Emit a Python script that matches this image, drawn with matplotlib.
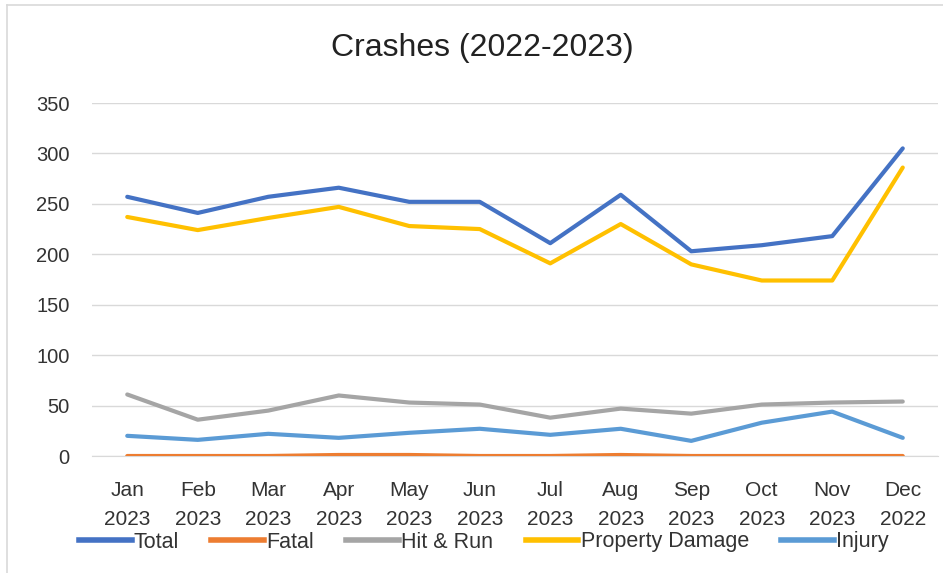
import matplotlib
matplotlib.use("Agg")
import matplotlib.pyplot as plt
from matplotlib.lines import Line2D

months = ["Jan\n2023", "Feb\n2023", "Mar\n2023", "Apr\n2023", "May\n2023", "Jun\n2023",
          "Jul\n2023", "Aug\n2023", "Sep\n2023", "Oct\n2023", "Nov\n2023", "Dec\n2022"]
total = [257, 241, 257, 266, 252, 252, 211, 259, 203, 209, 218, 305]
fatal = [0, 0, 0, 1, 1, 0, 0, 1, 0, 0, 0, 0]
hit_run = [61, 36, 45, 60, 53, 51, 38, 47, 42, 51, 53, 54]
property_damage = [237, 224, 236, 247, 228, 225, 191, 230, 190, 174, 174, 286]
injury = [20, 16, 22, 18, 23, 27, 21, 27, 15, 33, 44, 18]
yticks = [0, 50, 100, 150, 200, 250, 300, 350]

plt.rcParams['font.family'] = ['Liberation Sans', 'DejaVu Sans']

fig = plt.figure(figsize=(9.43, 5.73), dpi=100)
ax = fig.add_axes([92 / 943, 117 / 573, (938 - 92) / 943, (456 - 103) / 573])

series = [
    ("Total", total, "#4472C4"),
    ("Fatal", fatal, "#ED7D31"),
    ("Hit & Run", hit_run, "#A5A5A5"),
    ("Property Damage", property_damage, "#FFC000"),
    ("Injury", injury, "#5B9BD5"),
]
x = list(range(len(months)))
for name, vals, col in series:
    ax.plot(x, vals, color=col, lw=3, solid_capstyle='round', solid_joinstyle='round', label=name, zorder=3)

ax.set_xlim(-0.5, len(months) - 0.5)
ax.set_ylim(0, 350)
ax.set_yticks(yticks)
ax.set_xticks(x)
ax.set_xticklabels(months, linespacing=1.68)
ax.grid(axis='y', color='#D9D9D9', lw=1, zorder=0)
ax.set_axisbelow(True)
for s in ['top', 'right', 'left']:
    ax.spines[s].set_visible(False)
ax.spines['bottom'].set_color('#D9D9D9')
ax.tick_params(axis='both', length=0, colors='#333333')
ax.tick_params(axis='y', pad=16, labelsize=14.5)
ax.tick_params(axis='x', pad=18, labelsize=15)

fig.text(0.511, 0.916, "Crashes (2022-2023)", ha='center', va='center', fontsize=23, color='#222222')

handles = [Line2D([0], [0], color=c, lw=4) for _, _, c in series]
labels = [n for n, _, _ in series]
fig.legend(handles, labels, loc='center', bbox_to_anchor=(0.513, 1 - 542 / 573), ncol=5,
           frameon=False, fontsize=15.5, handlelength=2.45, handletextpad=0.1, columnspacing=1.5,
           labelcolor='#333333')

# chart border
fig.add_artist(Line2D([7 / 943, 7 / 943], [0, 1 - 5 / 573], color='#D9D9D9', lw=1.2, transform=fig.transFigure))
fig.add_artist(Line2D([7 / 943, 1], [1 - 5 / 573, 1 - 5 / 573], color='#D9D9D9', lw=1.2, transform=fig.transFigure))

fig.savefig("out.png", dpi=100)
